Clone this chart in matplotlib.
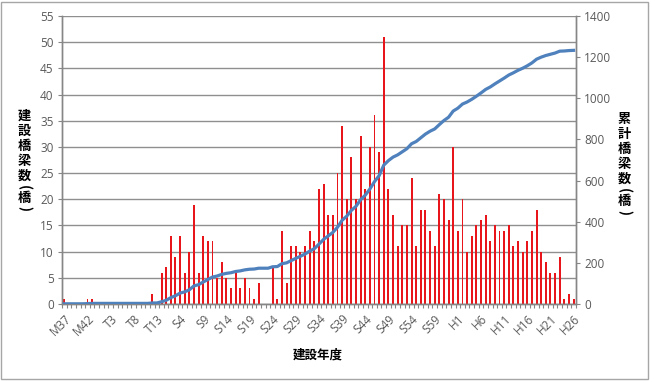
import numpy as np
import matplotlib
matplotlib.use('Agg')
import matplotlib.pyplot as plt
from matplotlib.patches import Rectangle

plt.rcParams['font.family'] = ['Noto Sans CJK JP', 'DejaVu Sans']

# bridges built per year, M37 (1904) .. H26 (2014)
counts = [
    1, 0, 0, 0, 0, 1, 1, 0, 0, 0,
    0, 0, 0, 0, 0, 0, 0, 0, 0, 2,
    0, 6, 7, 13, 9, 13, 6, 10, 19, 6,
    13, 12, 12, 5, 8, 5, 3, 6, 3, 5,
    3, 1, 4, 0, 0, 7, 1, 14, 4, 11,
    11, 10, 11, 14, 12, 22, 23, 17, 17, 25,
    34, 20, 28, 20, 32, 22, 30, 36, 29, 51,
    22, 17, 11, 15, 15, 24, 11, 18, 18, 14,
    11, 21, 20, 16, 30, 14, 20, 10, 13, 15,
    16, 17, 12, 15, 14, 14, 15, 11, 12, 10,
    12, 14, 18, 10, 8, 6, 6, 9, 1, 2,
    1,
]
tick_labels = ['M37', 'M42', 'T3', 'T8', 'T13', 'S4', 'S9', 'S14', 'S19', 'S24',
               'S29', 'S34', 'S39', 'S44', 'S49', 'S54', 'S59', 'H1', 'H6', 'H11',
               'H16', 'H21', 'H26']
left_title = ['建', '設', '橋', '梁', '数', '(', '橋', ')']
right_title = ['累', '計', '橋', '梁', '数', '(', '橋', ')']

x = np.arange(len(counts))
cumulative = np.cumsum(counts)

W, H = 650, 381
fig = plt.figure(figsize=(6.5, 3.81), dpi=100)
ax = fig.add_axes([0.0954, 0.2021, 0.7906, 0.7559])
ax2 = ax.twinx()

grey_txt = '#595959'
axis_col = '#868686'

ax.bar(x, counts, width=0.42, color='#e8161b', zorder=2)
ax.set_xlim(-0.5, len(counts) - 0.5)
ax.set_ylim(0, 55)
ax.set_yticks(np.arange(0, 56, 5))
ax.yaxis.grid(True, color='#8f8f8f', lw=1)
ax.set_axisbelow(True)

ax2.plot(x, cumulative, color='#4f81bd', lw=2.3, zorder=3)
ax2.set_ylim(0, 1400)
ax2.set_yticks(np.arange(0, 1401, 200))

# category ticks and labels every 5 years
ax.set_xticks(np.arange(0, len(counts), 5))
ax.set_xticklabels(tick_labels, rotation=45, ha='right', va='top',
                   rotation_mode='anchor', fontsize=8.5, color=grey_txt,
                   family=['Open Sans', 'DejaVu Sans'])
ax.set_xticks(np.arange(-0.5, len(counts), 1), minor=True)
ax.tick_params(axis='x', which='major', length=0, pad=6)
ax.tick_params(axis='x', which='minor', length=3, color=axis_col, width=0.8)
ax.tick_params(axis='y', length=3, color=axis_col, labelsize=8.5,
               labelcolor=grey_txt, pad=3)
ax2.tick_params(axis='y', length=3, color=axis_col, labelsize=8.5,
                labelcolor=grey_txt, pad=3)
for lab in ax.get_yticklabels() + ax2.get_yticklabels():
    lab.set_family(['Open Sans', 'DejaVu Sans'])

for a in (ax, ax2):
    a.spines['top'].set_visible(False)
    for s in ('left', 'right', 'bottom'):
        a.spines[s].set_color(axis_col)
        a.spines[s].set_linewidth(1)

fig.text(0.489, 0.068, '建設年度', ha='center', va='center',
         fontsize=9, fontweight='bold')

# vertical axis titles, one glyph at a time (parentheses turned sideways)
left_y = [116, 131, 146, 161, 176, 188, 198, 209]
right_y = [119, 134, 149, 164, 179, 191, 201, 212]
for chars, ys, xp in ((left_title, left_y, 24), (right_title, right_y, 624)):
    for ch, yp in zip(chars, ys):
        rot = -90 if ch in '()' else 0
        fig.text(xp / W, 1 - yp / H, ch, ha='center', va='center', rotation=rot,
                 fontsize=9.5, fontweight='bold')

fig.patches.append(Rectangle((0.002, 0.006), 0.995, 0.99, transform=fig.transFigure,
                             fill=False, edgecolor='#a6a6a6', lw=1))

fig.savefig('out.png', dpi=100)
